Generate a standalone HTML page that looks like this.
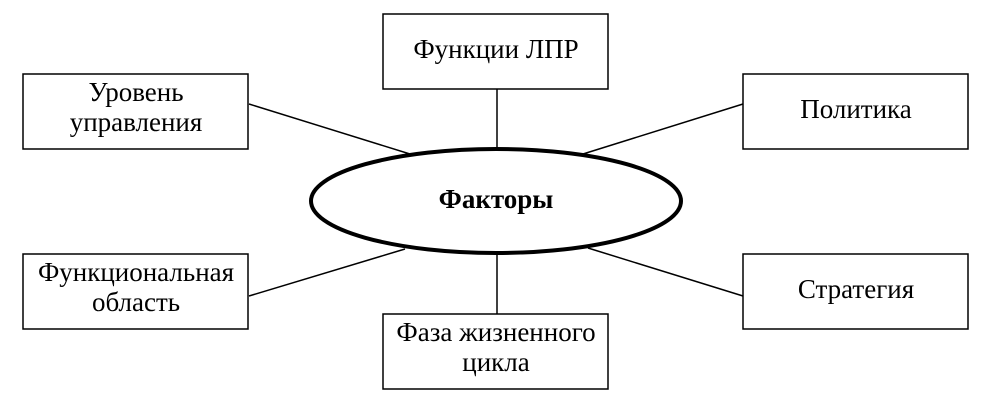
<!DOCTYPE html>
<html><head><meta charset="utf-8"><style>
html,body{margin:0;padding:0;background:#fff;}
svg{display:block;}
text{font-family:"Liberation Serif","Times New Roman",serif;font-size:27px;fill:#000;}
</style></head><body>
<svg width="997" height="413" viewBox="0 0 997 413" xmlns="http://www.w3.org/2000/svg">
<g stroke="#000" stroke-width="1.5" fill="#fff">
<line x1="249" y1="104" x2="410" y2="154"/>
<line x1="249" y1="296" x2="405" y2="249"/>
<line x1="743" y1="104" x2="583" y2="154"/>
<line x1="743" y1="296" x2="588" y2="248"/>
<line x1="497" y1="89" x2="497" y2="150"/>
<line x1="497" y1="253" x2="497" y2="314"/>
<rect x="23" y="74" width="225" height="75"/>
<rect x="23" y="254" width="225" height="75"/>
<rect x="383" y="14" width="225" height="75"/>
<rect x="383" y="314" width="225" height="75"/>
<rect x="743" y="74" width="225" height="75"/>
<rect x="743" y="254" width="225" height="75"/>
</g>
<ellipse cx="496" cy="201" rx="185" ry="52" fill="#fff" stroke="#000" stroke-width="4"/>
<g text-anchor="middle">
<text x="136" y="101">Уровень</text>
<text x="136" y="131">управления</text>
<text x="136" y="281">Функциональная</text>
<text x="136" y="311">область</text>
<text x="496" y="58">Функции ЛПР</text>
<text x="496" y="341">Фаза жизненного</text>
<text x="496" y="371">цикла</text>
<text x="856" y="118">Политика</text>
<text x="856" y="298">Стратегия</text>
<text x="496" y="208" font-weight="bold">Факторы</text>
</g>
</svg>
</body></html>
